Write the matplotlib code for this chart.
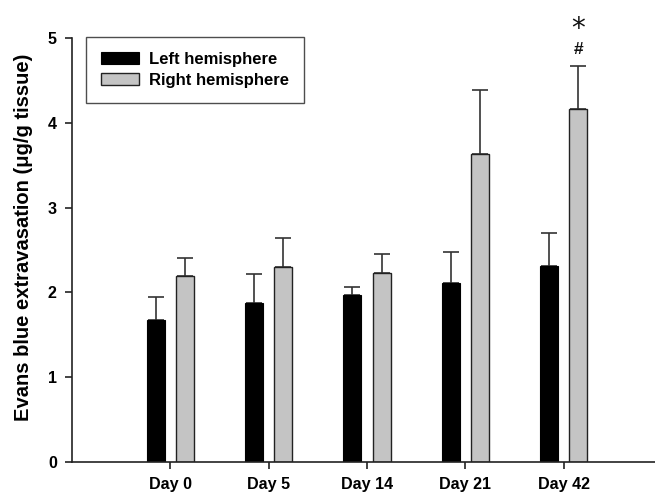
import matplotlib
matplotlib.use("Agg")
import matplotlib.pyplot as plt
import numpy as np

categories = ["Day 0", "Day 5", "Day 14", "Day 21", "Day 42"]
left_mean = [1.67, 1.875, 1.97, 2.11, 2.31]
left_err = [0.28, 0.345, 0.10, 0.37, 0.39]
right_mean = [2.19, 2.30, 2.23, 3.63, 4.16]
right_err = [0.22, 0.34, 0.22, 0.76, 0.51]
yticks = [0, 1, 2, 3, 4, 5]

plt.rcParams['font.family'] = ['Liberation Sans', 'DejaVu Sans']
plt.rcParams['font.weight'] = 'bold'

fig = plt.figure(figsize=(6.55, 4.95), dpi=100)
ax = fig.add_axes([0.110, 0.0667, 0.890, 0.8563])

x = np.arange(len(categories))
w = 0.183
off = 0.148
ax.bar(x - off, left_mean, w, color='black', edgecolor='black', linewidth=0.8,
       label='Left hemisphere', zorder=2)
ax.bar(x + off, right_mean, w, color='#c4c4c4', edgecolor='#222222', linewidth=1.0,
       label='Right hemisphere', zorder=2)
ax.errorbar(x - off, left_mean, yerr=[np.zeros(len(x)), left_err], fmt='none',
            ecolor='#333333', elinewidth=1.2, capsize=6, capthick=1.2, zorder=1)
ax.errorbar(x + off, right_mean, yerr=[np.zeros(len(x)), right_err], fmt='none',
            ecolor='#333333', elinewidth=1.2, capsize=6, capthick=1.2, zorder=1)

# significance markers above Day 42 right bar
ax.text(x[4] + off, right_mean[4] + right_err[4] + 0.11, '#', ha='center', va='bottom',
        fontsize=12.5, fontweight='bold', color='#111111')
ax.text(x[4] + off, right_mean[4] + right_err[4] + 0.27, '*', ha='center', va='bottom',
        fontsize=20, fontweight='normal', color='#111111', family='DejaVu Sans')

ax.set_xlim(-1.0, 4.93)
ax.set_ylim(0, 5)
ax.set_yticks(yticks)
ax.set_xticks(x)
ax.set_xticklabels(categories, fontsize=11.6, fontweight='bold')
ax.set_yticklabels([str(t) for t in yticks], fontsize=11.6, fontweight='bold')
for s in ['top', 'right']:
    ax.spines[s].set_visible(False)
for s in ['left', 'bottom']:
    ax.spines[s].set_linewidth(1.2)
    ax.spines[s].set_color('#222222')
ax.tick_params(axis='both', direction='out', length=5, width=1.2, colors='#222222',
               labelcolor='black')
ax.tick_params(axis='x', pad=6)
ax.tick_params(axis='y', pad=6)
ax.set_ylabel('Evans blue extravasation (μg/g tissue)', fontsize=14.5, fontweight='bold')
ax.yaxis.set_label_coords(-0.067, 0.53)

leg = ax.legend(loc='upper left', bbox_to_anchor=(0.024, 1.003), borderaxespad=0,
                fontsize=12, frameon=True, fancybox=False, edgecolor='#222222',
                borderpad=0.9, handlelength=2.3, handleheight=0.72,
                handletextpad=0.55, labelspacing=0.37)
leg.get_frame().set_linewidth(1.0)
for t in leg.get_texts():
    t.set_fontweight('bold')

fig.savefig('out.png', dpi=100)
